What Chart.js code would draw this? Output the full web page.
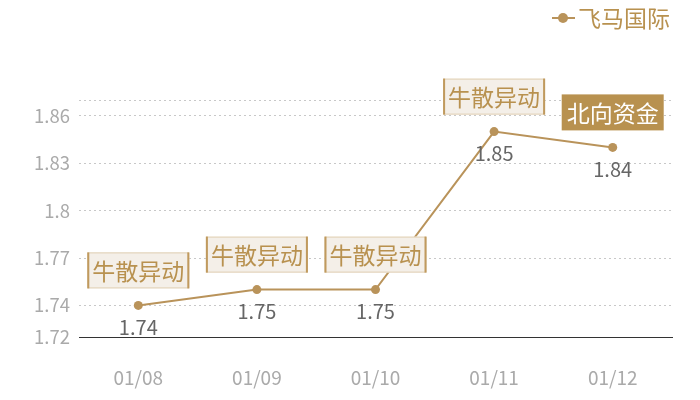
<!DOCTYPE html>
<html>
<head>
<meta charset="utf-8">
<script src="https://cdn.jsdelivr.net/npm/chart.js@4.4.1/dist/chart.umd.min.js"></script>
<style>
  html, body { margin: 0; padding: 0; background: #fff; }
  #wrap { width: 700px; height: 400px; position: relative; }
</style>
</head>
<body>
<div id="wrap"><canvas id="chart"></canvas></div>
<script>
const categories = ['01/08', '01/09', '01/10', '01/11', '01/12']
const prices = [1.74, 1.75, 1.75, 1.85, 1.84]
const tags = ['牛散异动', '牛散异动', '牛散异动', '牛散异动', '北向资金']
const tagKinds = ['stock', 'stock', 'stock', 'stock', 'north']
const yTicks = [1.72, 1.74, 1.77, 1.8, 1.83, 1.86]
const yMax = 1.87
const seriesName = '飞马国际'

const gold = '#b9935a'
const font = '"Noto Sans CJK SC", "Noto Sans", sans-serif'

// labels under points, tags above them, legend in the corner
const markPlugin = {
    id: 'marks',
    afterDatasetsDraw(chart) {
        const ctx = chart.ctx
        const meta = chart.getDatasetMeta(0)
        ctx.save()
        meta.data.forEach((pt, i) => {
            // value
            ctx.font = '20px ' + font
            ctx.fillStyle = '#666'
            ctx.textAlign = 'center'
            ctx.textBaseline = 'middle'
            ctx.fillText(String(prices[i]), pt.x, pt.y + 22)

            // tag box
            ctx.font = '23px ' + font
            let w = ctx.measureText(tags[i]).width + 10
            let h = 36
            let x = pt.x - w / 2
            let y = pt.y - 17 - h
            if (tagKinds[i] == 'north') {
                ctx.fillStyle = '#b8914f'
                ctx.fillRect(x, y, w, h)
                ctx.fillStyle = '#fff'
            } else {
                ctx.fillStyle = '#f4efe8'
                ctx.fillRect(x, y, w, h)
                ctx.strokeStyle = '#e0cfb3'
                ctx.lineWidth = 1
                ctx.strokeRect(x + 0.5, y + 0.5, w - 1, h - 1)
                ctx.fillStyle = '#c09a5e'
                ctx.fillRect(x, y, 2, h)
                ctx.fillRect(x + w - 2, y, 2, h)
                ctx.fillStyle = '#b8914f'
            }
            ctx.fillText(tags[i], pt.x, y + h / 2 + 1)
        })

        // legend
        ctx.strokeStyle = gold
        ctx.lineWidth = 2
        ctx.beginPath()
        ctx.moveTo(552, 18)
        ctx.lineTo(575, 18)
        ctx.stroke()
        ctx.fillStyle = gold
        ctx.beginPath()
        ctx.arc(563, 18, 5, 0, Math.PI * 2)
        ctx.fill()
        ctx.font = '23px ' + font
        ctx.textAlign = 'left'
        ctx.textBaseline = 'middle'
        ctx.fillStyle = '#b8914f'
        ctx.fillText(seriesName, 578, 18)
        ctx.restore()
    }
}

new Chart(document.getElementById('chart'), {
    type: 'line',
    data: {
        labels: categories,
        datasets: [{
            label: seriesName,
            data: prices,
            borderColor: gold,
            backgroundColor: gold,
            borderWidth: 2,
            pointRadius: 4.5,
            pointHoverRadius: 4.5,
            pointBackgroundColor: gold,
            pointBorderWidth: 0,
            tension: 0
        }]
    },
    options: {
        responsive: true,
        maintainAspectRatio: false,
        animation: false,
        layout: { padding: { top: 100, right: 28, left: 0, bottom: 0 } },
        plugins: {
            legend: { display: false },
            tooltip: { enabled: false }
        },
        scales: {
            x: {
                offset: true,
                grid: { display: false },
                border: { display: true, color: '#333', width: 1 },
                ticks: {
                    color: '#aaa',
                    font: { family: font, size: 19 },
                    padding: 21
                },
                afterFit: (scale) => { scale.height = 63 }
            },
            y: {
                min: yTicks[0],
                max: yMax,
                afterBuildTicks: (scale) => {
                    scale.ticks = yTicks.concat([yMax]).map(v => ({ value: v }))
                },
                afterFit: (scale) => { scale.width = 79 },
                border: { display: false, dash: [2, 3] },
                grid: {
                    color: (c) => c.tick && c.tick.value == yTicks[0] ? 'rgba(0,0,0,0)' : '#c8c8c8',
                    lineWidth: 1,
                    drawTicks: false
                },
                ticks: {
                    color: '#aaa',
                    font: { family: font, size: 18.5 },
                    padding: 9,
                    callback: (v) => v == yMax ? '' : String(Math.round(v * 100) / 100)
                }
            }
        }
    },
    plugins: [markPlugin]
})
</script>
</body>
</html>
